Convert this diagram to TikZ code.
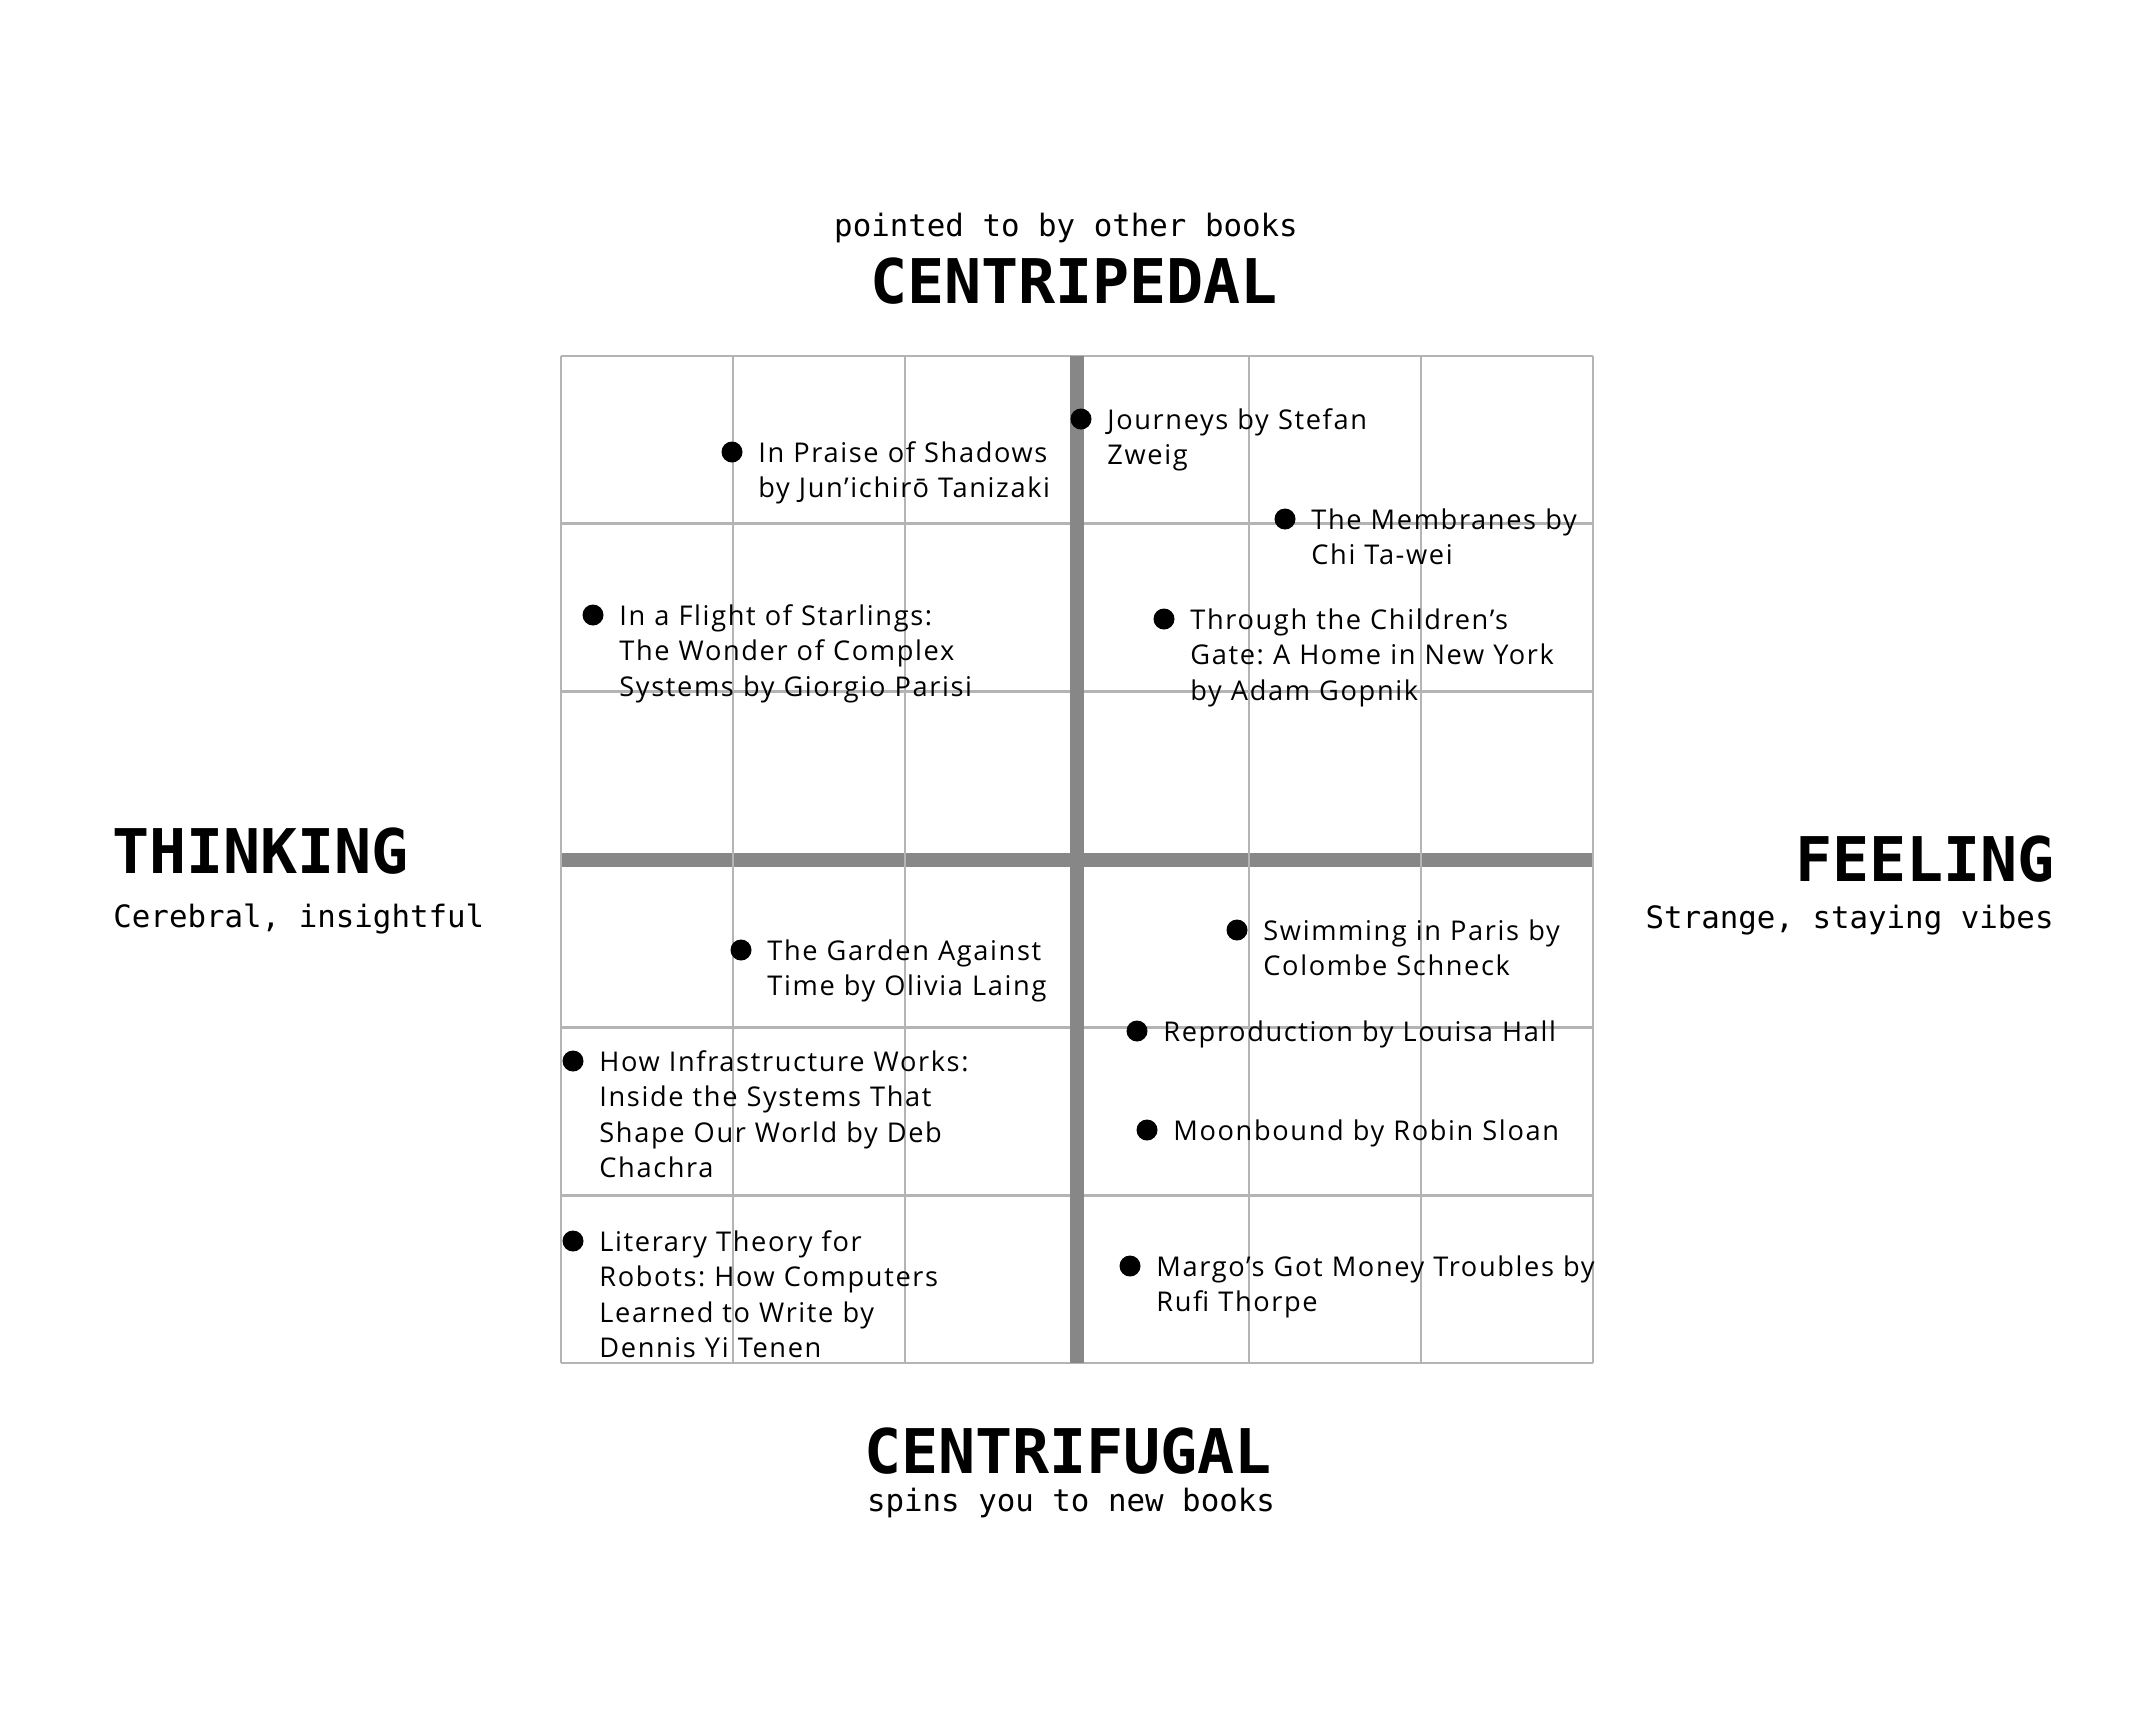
\documentclass[tikz,border=0pt]{standalone}
\usepackage{fontspec}
\setmainfont{Open Sans}[LetterSpace=6]
\newfontfamily\axisfont{DejaVu Sans Mono}
\definecolor{gridgray}{HTML}{B4B4B4}
\definecolor{axisgray}{HTML}{878787}
\frenchspacing

\begin{document}
\begin{tikzpicture}[x=0.5pt, y=-0.5pt,
    gridline/.style={gridgray, line width=1.35pt},
    axisline/.style={axisgray, line width=7pt},
    bookdot/.style={circle, fill=black, inner sep=0pt, minimum size=10.5pt},
    booktext/.style={anchor=base west, inner sep=0pt, text width=250pt, align=left,
        font=\fontsize{13.6}{17.75}\selectfont},
    axistitle/.style={inner sep=0pt, font=\axisfont\bfseries\fontsize{30.8}{31}\selectfont},
    axisnote/.style={inner sep=0pt, font=\axisfont\fontsize{15.4}{18}\selectfont}]
\useasboundingbox (0,0) rectangle (2154,1726);
% Draw grid rows and the feeling/thinking axis
\foreach \i in {0,...,6}
    \draw[gridline] (561,{356+\i*167.83}) -- (1593,{356+\i*167.83});
\draw[axisline] (561,859.5) -- (1593,859.5);
% Draw grid columns and the centripedal/centrifugal axis
\foreach \i in {0,...,6}
    \draw[gridline] ({561+\i*172},356) -- ({561+\i*172},1363);
\draw[axisline] (1077,356) -- (1077,1363);
% Axis labels
\node[axisnote, anchor=base] (topnote) at (1066,236) {pointed to by other books};
\node[axistitle, anchor=base] (top) at (1074,303) {CENTRIPEDAL};
\node[axistitle, anchor=base west] (left) at (112,873) {THINKING};
\node[axisnote, anchor=base west] (leftnote) at (113,927) {Cerebral, insightful};
\node[axistitle, anchor=base east] (right) at (2055,881) {FEELING};
\node[axisnote, anchor=base east] (rightnote) at (2054,928) {Strange, staying vibes};
\node[axistitle, anchor=base] (bottom) at (1068,1473) {CENTRIFUGAL};
\node[axisnote, anchor=base] (bottomnote) at (1071,1511) {spins you to new books};
% Books
\foreach \n/\x/\y/\t in {
    praise/732/452/{In Praise of Shadows\\by Jun’ichirō Tanizaki},
    journeys/1081/419/{Journeys by Stefan\\Zweig},
    membranes/1285/519/{The Membranes by\\Chi Ta-wei},
    starlings/593/615/{In a Flight of Starlings:\\The Wonder of Complex\\Systems by Giorgio Parisi},
    gate/1164/619/{Through the Children’s\\Gate: A Home in New York\\by Adam Gopnik},
    garden/741/950/{The Garden Against\\Time by Olivia Laing},
    swimming/1237/930/{Swimming in Paris by\\Colombe Schneck},
    reproduction/1137/1031/{Reproduction by Louisa Hall},
    infrastructure/573/1061/{How Infrastructure Works:\\Inside the Systems That\\Shape Our World by Deb\\Chachra},
    moonbound/1147/1130/{Moonbound by Robin Sloan},
    literary/573/1241/{Literary Theory for\\Robots: How Computers\\Learned to Write by\\Dennis Yi Tenen},
    margo/1130/1266/{Margo’s Got Money Troubles by\\Rufi Thorpe}}
{
    \node[bookdot] (\n) at (\x,\y) {};
    \node[booktext] (\n-title) at ([shift={(13pt,-5pt)}]\n.center) {\t};
}
\end{tikzpicture}
\end{document}
